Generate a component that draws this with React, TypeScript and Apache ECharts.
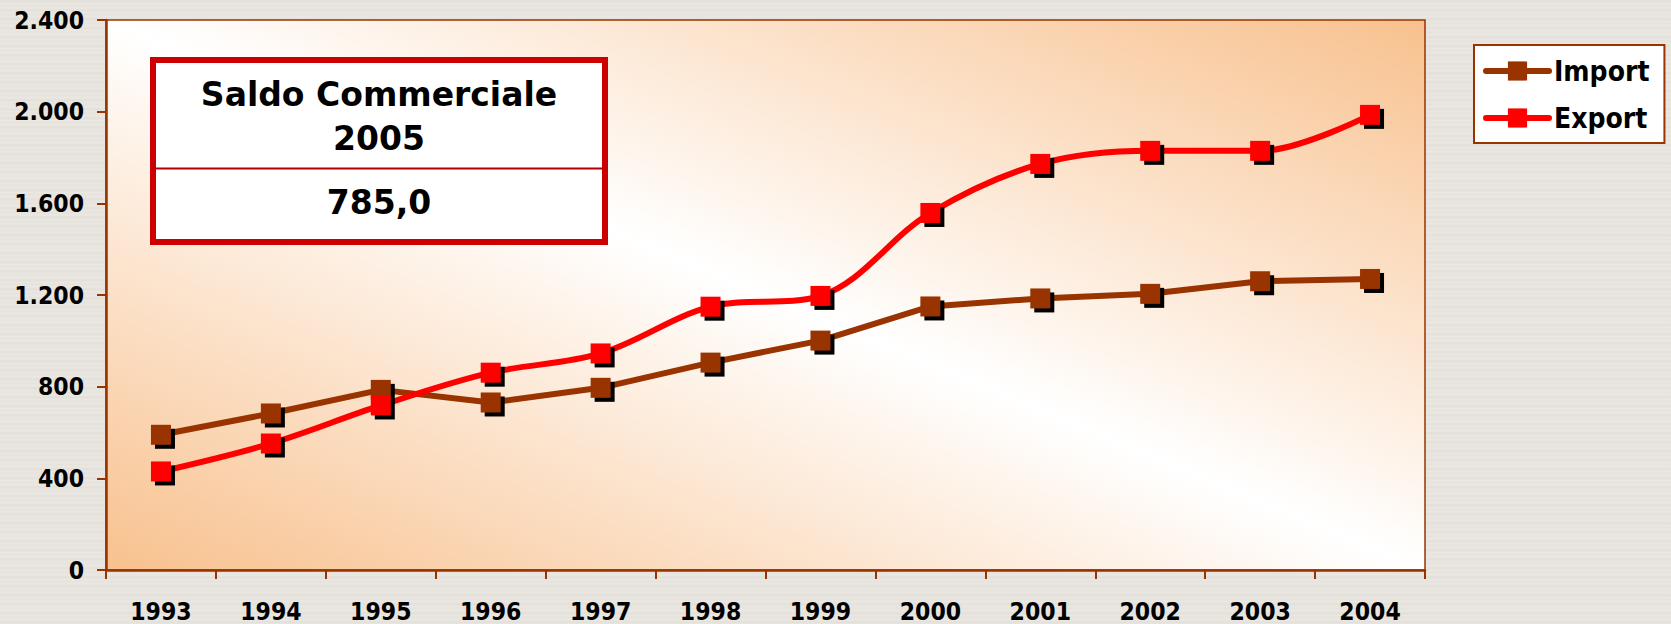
import React, { useEffect, useRef } from "react";
import * as echarts from "echarts";

const categories = ["1993", "1994", "1995", "1996", "1997", "1998", "1999", "2000", "2001", "2002", "2003", "2004"];
const importValues = [590, 683, 786, 731, 795, 905, 1001, 1150, 1185, 1205, 1260, 1270];
const exportValues = [430, 552, 718, 861, 945, 1149, 1196, 1558, 1772, 1829, 1829, 1986];
const yTickLabels = ["0", "400", "800", "1.200", "1.600", "2.000", "2.400"];
const seriesNames = ["Import", "Export"];
const boxTitle = ["Saldo Commerciale", "2005"];
const boxValue = "785,0";

const IMPORT_COLOR = "#993300";
const EXPORT_COLOR = "#FF0000";
const AXIS_COLOR = "#993300";
const AXIS_FONT = "'DejaVu Sans Condensed', 'Liberation Sans', sans-serif";
const BOX_FONT = "'DejaVu Sans', 'Liberation Sans', sans-serif";

export default function App() {
  const ref = useRef<HTMLDivElement>(null);

  useEffect(() => {
    if (!ref.current) return;
    const chart = echarts.init(ref.current, null, { renderer: "svg" });

    const shadowSeries = (data: number[]) => ({
      type: "line",
      data,
      symbol: "rect",
      symbolSize: 20,
      symbolOffset: [4, 4],
      showAllSymbol: true,
      lineStyle: { opacity: 0, width: 0 },
      itemStyle: { color: "#000000" },
      silent: true,
      emphasis: { disabled: true },
      tooltip: { show: false },
    });

    const option = {
      animation: false,
      backgroundColor: "transparent",
      grid: {
        left: 106,
        right: 246,
        top: 20,
        bottom: 54,
        containLabel: false,
        outerBoundsMode: "none",
        show: true,
        borderColor: AXIS_COLOR,
        borderWidth: 1.5,
        backgroundColor: new echarts.graphic.LinearGradient(0, 1, 1, 0, [
          { offset: 0, color: "#F8C18E" },
          { offset: 0.5, color: "#FFFFFF" },
          { offset: 1, color: "#F8C18E" },
        ]),
      },
      legend: {
        data: seriesNames,
        orient: "vertical",
        left: 1474,
        top: 45,
        itemWidth: 63,
        itemHeight: 24,
        itemGap: 19,
        padding: [12, 15, 11, 9],
        backgroundColor: "#FFFFFF",
        borderColor: AXIS_COLOR,
        borderWidth: 2,
        borderRadius: 0,
        lineStyle: { width: 6, cap: "round" },
        textStyle: {
          fontFamily: AXIS_FONT,
          fontWeight: "bold",
          fontSize: 28,
          color: "#000000",
        },
      },
      xAxis: {
        type: "category",
        data: categories,
        boundaryGap: true,
        axisLine: { show: true, lineStyle: { color: AXIS_COLOR, width: 2.5 } },
        axisTick: { show: true, length: 9, inside: false, lineStyle: { color: AXIS_COLOR, width: 2 } },
        axisLabel: {
          margin: 30,
          lineHeight: 22,
          fontFamily: AXIS_FONT,
          fontWeight: "bold",
          fontSize: 24.5,
          color: "#000000",
        },
        splitLine: { show: false },
      },
      yAxis: {
        type: "value",
        min: 0,
        max: 2400,
        interval: 400,
        axisLine: { show: true, lineStyle: { color: AXIS_COLOR, width: 2.5 } },
        axisTick: { show: true, length: 9, inside: false, lineStyle: { color: AXIS_COLOR, width: 2 } },
        axisLabel: {
          margin: 22,
          fontFamily: AXIS_FONT,
          fontWeight: "bold",
          fontSize: 24.5,
          color: "#000000",
          formatter: (v: number) => yTickLabels[Math.round(v / 400)] ?? String(v),
        },
        splitLine: { show: false },
      },
      series: [
        shadowSeries(importValues),
        {
          name: seriesNames[0],
          type: "line",
          data: importValues,
          smooth: false,
          symbol: "rect",
          symbolSize: 20,
          showAllSymbol: true,
          lineStyle: { color: IMPORT_COLOR, width: 6 },
          itemStyle: { color: IMPORT_COLOR },
        },
        shadowSeries(exportValues),
        {
          name: seriesNames[1],
          type: "line",
          data: exportValues,
          smooth: 0.35,
          symbol: "rect",
          symbolSize: 20,
          showAllSymbol: true,
          lineStyle: { color: EXPORT_COLOR, width: 6 },
          itemStyle: { color: EXPORT_COLOR },
        },
      ],
      graphic: [
        {
          type: "group",
          left: 150,
          top: 57,
          children: [
            {
              type: "rect",
              shape: { x: 3, y: 3, width: 452, height: 182 },
              style: { fill: "#FFFFFF", stroke: "#CC0000", lineWidth: 6 },
            },
            {
              type: "line",
              shape: { x1: 3, y1: 111.5, x2: 455, y2: 111.5 },
              style: { stroke: "#B00000", lineWidth: 2 },
            },
            {
              type: "text",
              x: 229,
              y: 37,
              style: {
                text: boxTitle[0],
                fontFamily: BOX_FONT,
                fontWeight: "bold",
                fontSize: 33,
                fill: "#000000",
                align: "center",
                verticalAlign: "middle",
              },
            },
            {
              type: "text",
              x: 229,
              y: 81,
              style: {
                text: boxTitle[1],
                fontFamily: BOX_FONT,
                fontWeight: "bold",
                fontSize: 33,
                fill: "#000000",
                align: "center",
                verticalAlign: "middle",
              },
            },
            {
              type: "text",
              x: 229,
              y: 145,
              style: {
                text: boxValue,
                fontFamily: BOX_FONT,
                fontWeight: "bold",
                fontSize: 33,
                fill: "#000000",
                align: "center",
                verticalAlign: "middle",
              },
            },
          ],
        },
      ],
    };

    chart.setOption(option as any);
    return () => chart.dispose();
  }, []);

  return (
    <div
      style={{
        position: "fixed",
        left: 0,
        top: 0,
        width: 1671,
        height: 624,
        background:
          "repeating-linear-gradient(0deg, #e8e5e0 0px, #e3dfd9 2px, #ebe8e3 4px, #e6e2dc 7px, #ece9e4 9px)",
      }}
    >
      <div ref={ref} style={{ width: 1671, height: 624 }} />
    </div>
  );
}
